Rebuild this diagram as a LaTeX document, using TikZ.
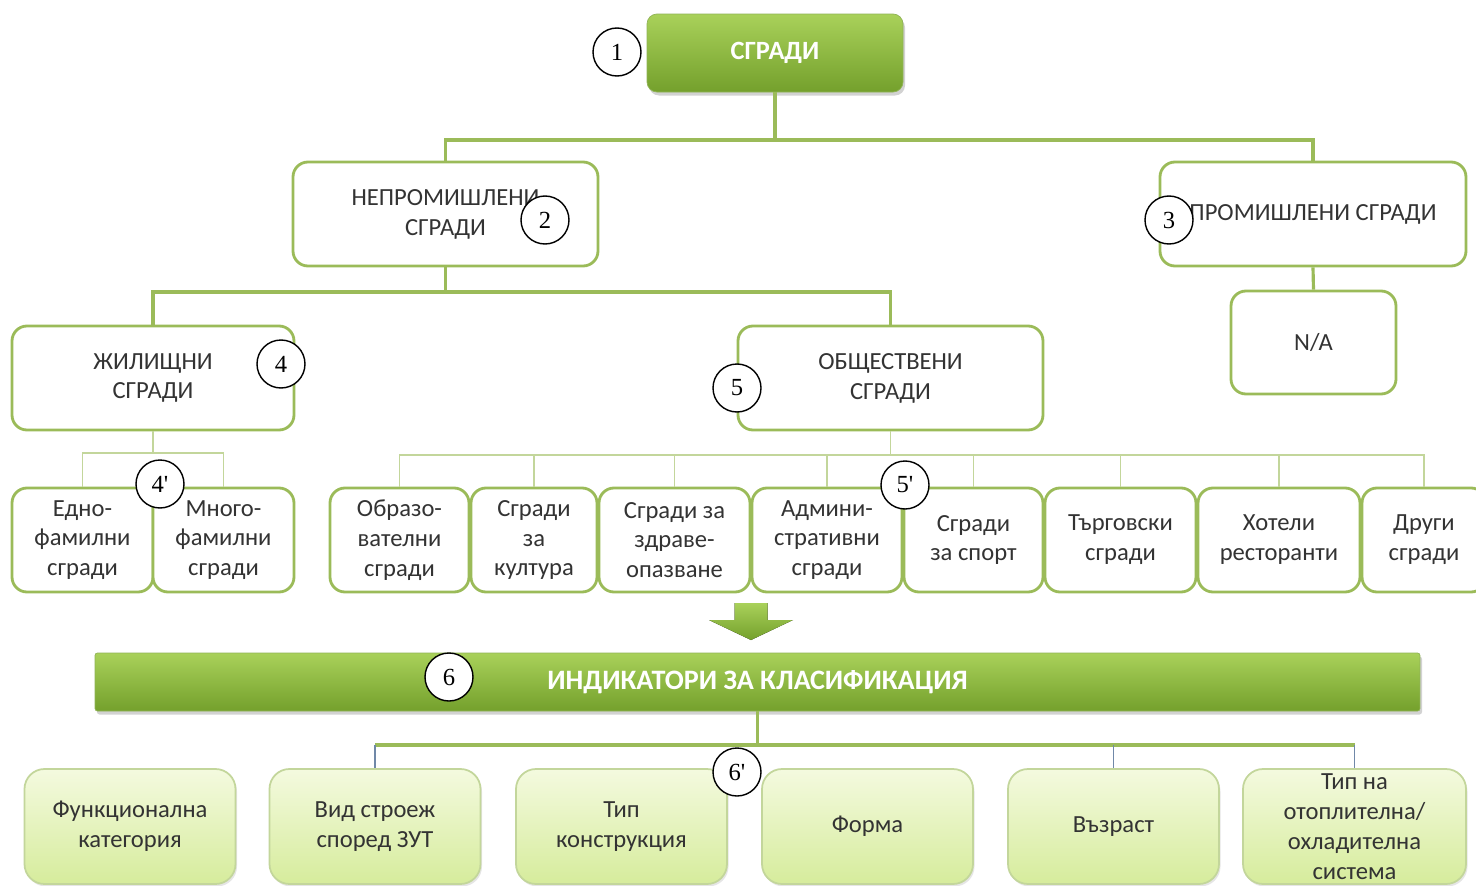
\documentclass[tikz,border=0pt]{standalone}
\usepackage{fontspec}
\setmainfont{Carlito}
\newfontfamily\numfont{Liberation Serif}
\usepackage{xcolor}
\usetikzlibrary{shapes,arrows,positioning,calc,backgrounds,fit,shadows}

\definecolor{borde}{HTML}{9BBB59}
\definecolor{bordeclaro}{HTML}{C3D69B}
\definecolor{verdeA}{HTML}{A9D15A}
\definecolor{verdeB}{HTML}{74A02C}
\definecolor{claroA}{HTML}{F4FADF}
\definecolor{claroB}{HTML}{D6EC9C}
\definecolor{azulgris}{HTML}{7088A8}
\definecolor{texto}{HTML}{333333}

\begin{document}
\begin{tikzpicture}
  \tikzstyle{caja}=[rectangle, draw=borde, fill=white, line width=1.6pt, rounded corners=0.3cm, minimum height=2.08cm, inner sep=0pt, text=texto, font=\fontsize{14}{17}\selectfont, align=center]
  \tikzstyle{titulo}=[rectangle, draw=verdeB!80, top color=verdeA, bottom color=verdeB, rounded corners=0.2cm, inner sep=0pt, text=white, drop shadow={opacity=0.35, shadow xshift=0.04cm, shadow yshift=-0.07cm}]
  \tikzstyle{indicador}=[rectangle, draw=bordeclaro, top color=claroA, bottom color=claroB, line width=1pt, rounded corners=0.4cm, minimum width=4.22cm, minimum height=2.3cm, inner sep=0pt, text=texto, font=\fontsize{14}{17}\selectfont, align=center, drop shadow={opacity=0.2, shadow xshift=0.03cm, shadow yshift=-0.05cm}]
  \tikzstyle{numero}=[circle, draw=black, fill=white, line width=0.8pt, minimum size=0.96cm, inner sep=0pt, font=\numfont\fontsize{14}{14}\selectfont]
  \tikzstyle{rama}=[draw=borde, line width=1.8pt]
  \tikzstyle{subrama}=[draw=bordeclaro, line width=1pt]
  \tikzstyle{hilo}=[draw=azulgris, line width=0.6pt]

  \path[fill=white, use as bounding box] (0,0) rectangle (29.52,-17.72);

  % Nivel superior
  \node[titulo, minimum width=5.12cm, minimum height=1.56cm, font=\bfseries\fontsize{15}{18}\selectfont] (sgradi) at (15.5,-1.06) {СГРАДИ};
  \node[caja, minimum width=6.1cm] (neprom) at (8.91,-4.28) {НЕПРОМИШЛЕНИ\\СГРАДИ};
  \node[caja, minimum width=6.12cm] (prom) at (26.26,-4.28) {ПРОМИШЛЕНИ СГРАДИ};
  \node[caja, minimum width=3.3cm, minimum height=2.06cm] (na) at (26.27,-6.85) {N/A};
  \node[caja, minimum width=5.64cm] (jil) at (3.06,-7.56) {ЖИЛИЩНИ\\СГРАДИ};
  \node[caja, minimum width=6.1cm] (obsht) at (17.81,-7.56) {ОБЩЕСТВЕНИ\\СГРАДИ};

  % Жилищни
  \node[caja, minimum width=2.82cm] (edno) at (1.65,-10.8) {Едно-\\фамилни\\сгради};
  \node[caja, minimum width=2.82cm] (mnogo) at (4.47,-10.8) {Много-\\фамилни\\сгради};

  % Обществени
  \node[caja, minimum width=2.78cm] (obraz) at (7.99,-10.8) {Образо-\\вателни\\сгради};
  \node[caja, minimum width=2.52cm] (kult) at (10.68,-10.8) {Сгради\\за\\култура};
  \node[caja, minimum width=3.02cm] (zdrav) at (13.49,-10.8) {Сгради за\\здраве-\\опазване};
  \node[caja, minimum width=3.0cm] (admin) at (16.54,-10.8) {Админи-\\стративни\\сгради};
  \node[caja, minimum width=2.78cm] (sport) at (19.47,-10.8) {Сгради\\за спорт};
  \node[caja, minimum width=3.02cm] (targ) at (22.41,-10.8) {Търговски\\сгради};
  \node[caja, minimum width=3.24cm] (hotel) at (25.58,-10.8) {Хотели\\ресторанти};
  \node[caja, minimum width=2.48cm] (drugi) at (28.48,-10.8) {Други\\сгради};

  % Flecha y banda de indicadores
  \coordinate (flecha) at (15.02,-12.06);
  \fill[top color=verdeA, bottom color=verdeB] (flecha) ++(-0.33,0) -- ++(0.66,0) -- ++(0,-0.34) -- ++(0.51,0) -- (15.02,-12.8) -- (14.18,-12.4) -- ++(0.51,0) -- cycle;
  \node[titulo, minimum width=26.5cm, minimum height=1.16cm, rounded corners=0.05cm, font=\bfseries\fontsize{16}{19}\selectfont] (indik) at (15.15,-13.64) {ИНДИКАТОРИ ЗА КЛАСИФИКАЦИЯ};

  % Индикатори
  \node[indicador] (funk) at (2.6,-16.53) {Функционална\\категория};
  \node[indicador] (vid) at (7.5,-16.53) {Вид строеж\\според ЗУТ};
  \node[indicador] (tip) at (12.43,-16.53) {Тип\\конструкция};
  \node[indicador] (forma) at (17.35,-16.53) {Форма};
  \node[indicador] (vazr) at (22.27,-16.53) {Възраст};
  \node[indicador, minimum width=4.46cm] (sist) at (27.09,-16.53) {Тип на\\отоплителна/\\охладителна\\система};

  % Conexiones
  \coordinate (r1) at (15.5,-2.8);
  \draw[rama] (sgradi.south) -- (r1);
  \draw[rama] (r1) -| (neprom.north);
  \draw[rama] (r1) -| (prom.north);
  \draw[rama] (prom.south) -- (na.north);
  \coordinate (r2) at (8.91,-5.84);
  \draw[rama] (neprom.south) -- (r2);
  \draw[rama] (r2) -| (jil.north);
  \draw[rama] (r2) -| (obsht.north);
  \coordinate (r3) at (3.06,-9.06);
  \draw[subrama] (jil.south) -- (r3);
  \draw[subrama] (r3) -| (edno.north);
  \draw[subrama] (r3) -| (mnogo.north);
  \coordinate (r4) at (17.81,-9.1);
  \draw[subrama] (obsht.south) -- (r4);
  \foreach \n in {obraz,kult,zdrav,admin,sport,targ,hotel,drugi}
    \draw[subrama] (r4) -| (\n.north);
  \coordinate (r5) at (15.15,-14.9);
  \draw[rama] (indik.south) -- (r5);
  \draw[rama] (vid.north |- r5) -- (sist.north |- r5);
  \foreach \n in {vid,vazr,sist}
    \draw[hilo] (\n.north |- r5) -- (\n.north);

  % Numeracion
  \node[numero] (n1) at (12.34,-1.04) {1};
  \node[numero] (n2) at (10.9,-4.4) {2};
  \node[numero] (n3) at (23.38,-4.4) {3};
  \node[numero] (n4) at (5.62,-7.28) {4};
  \node[numero] (n5) at (14.74,-7.76) {5};
  \node[numero] (n4b) at (3.2,-9.68) {4'};
  \node[numero] (n5b) at (18.1,-9.7) {5'};
  \node[numero] (n6) at (8.98,-13.54) {6};
  \node[numero] (n6b) at (14.74,-15.44) {6'};
\end{tikzpicture}
\end{document}
